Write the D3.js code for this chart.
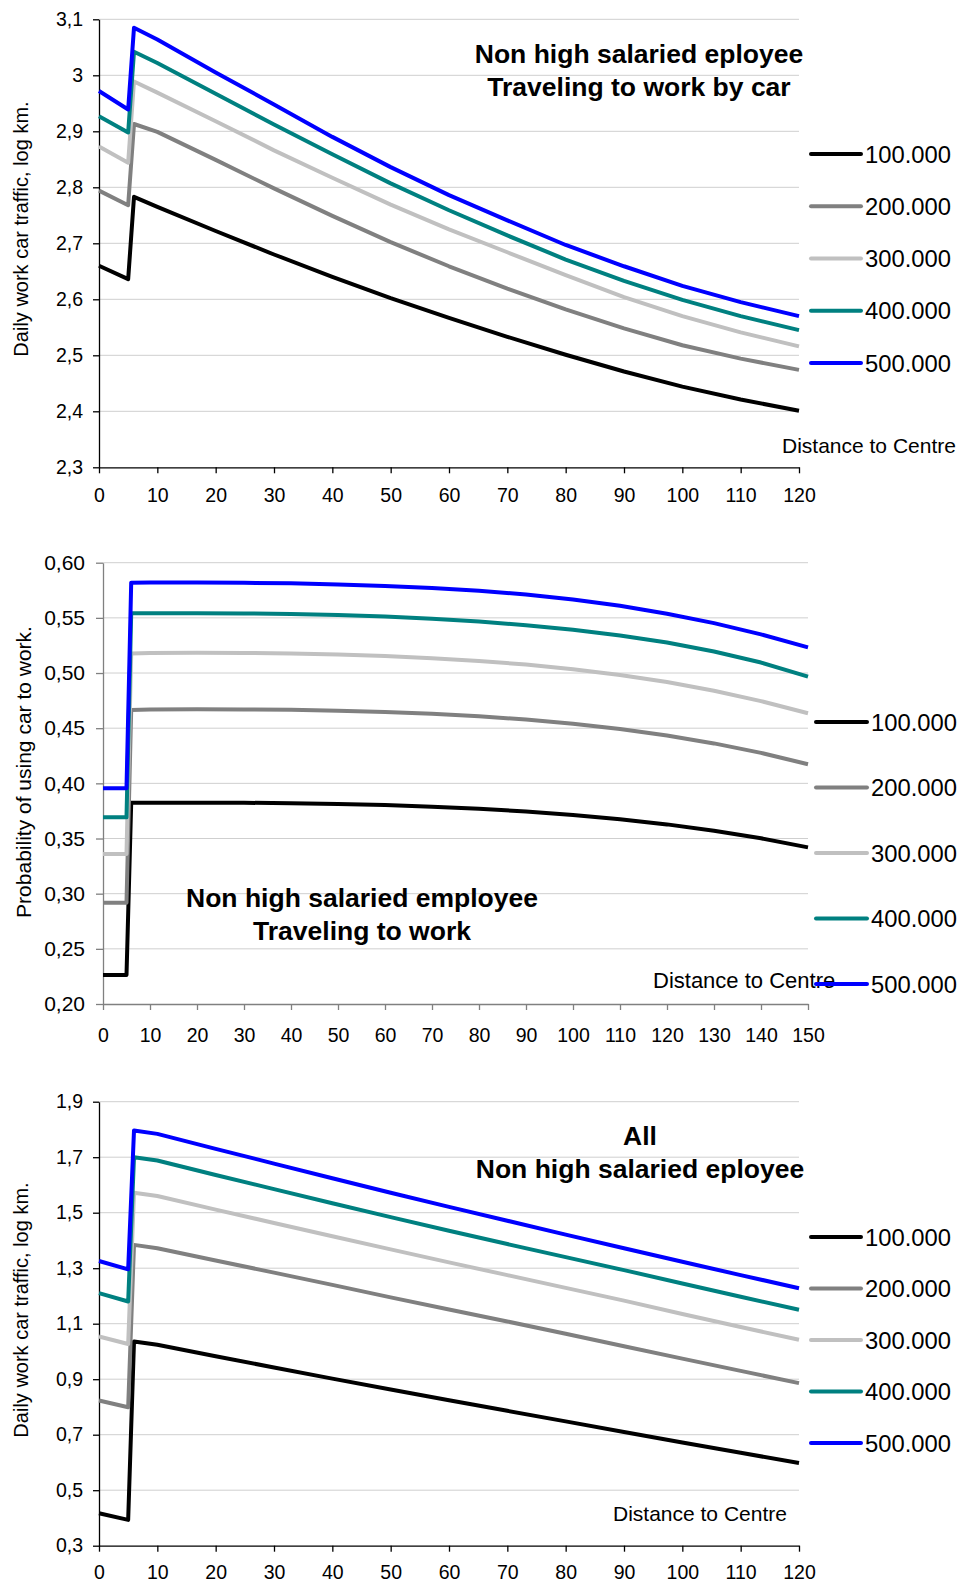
<!DOCTYPE html>
<html>
<head>
<meta charset="utf-8">
<script src="https://cdn.jsdelivr.net/npm/d3@7"></script>
<style>
  body { margin: 0; background: #fff; }
  svg text { font-family: "Liberation Sans", Arial, sans-serif; fill: #000; }
</style>
</head>
<body>
<div id="chart"></div>
<script>
// Series labels and colours (same for all three panels)
const seriesNames = ["100.000", "200.000", "300.000", "400.000", "500.000"];
const seriesColors = ["#000000", "#808080", "#c0c0c0", "#008080", "#0000ff"];

// Panel 1: traffic by car, log km
const distA = [0, 5, 6, 10, 20, 30, 40, 50, 60, 70, 80, 90, 100, 110, 120];
const carKm100 = [2.660, 2.636, 2.783, 2.765, 2.722, 2.680, 2.640, 2.602, 2.567, 2.533, 2.501, 2.471, 2.444, 2.421, 2.401];
const carKm200 = [2.794, 2.768, 2.913, 2.899, 2.849, 2.798, 2.749, 2.702, 2.659, 2.619, 2.582, 2.548, 2.518, 2.494, 2.474];
const carKm300 = [2.873, 2.844, 2.989, 2.969, 2.918, 2.866, 2.817, 2.769, 2.725, 2.684, 2.643, 2.604, 2.570, 2.541, 2.516];
const carKm400 = [2.927, 2.898, 3.042, 3.022, 2.967, 2.912, 2.859, 2.807, 2.759, 2.714, 2.671, 2.633, 2.599, 2.570, 2.545];
const carKm500 = [2.972, 2.939, 3.085, 3.064, 3.005, 2.948, 2.890, 2.836, 2.786, 2.741, 2.697, 2.659, 2.624, 2.595, 2.570];
const xTicksA = [0, 10, 20, 30, 40, 50, 60, 70, 80, 90, 100, 110, 120];
const yTicks1 = [2.3, 2.4, 2.5, 2.6, 2.7, 2.8, 2.9, 3.0, 3.1];

// Panel 2: probability of using car
const distB = [0, 5, 6, 10, 20, 30, 40, 50, 60, 70, 80, 90, 100, 110, 120, 130, 140, 150];
const prob100 = [0.2263, 0.2263, 0.3825, 0.3825, 0.3825, 0.3824, 0.3820, 0.3813, 0.3803, 0.3789, 0.3770, 0.3745, 0.3713, 0.3675, 0.3628, 0.3571, 0.3502, 0.3420];
const prob200 = [0.2918, 0.2918, 0.4665, 0.4670, 0.4671, 0.4670, 0.4666, 0.4659, 0.4647, 0.4630, 0.4608, 0.4578, 0.4540, 0.4492, 0.4433, 0.4362, 0.4276, 0.4173];
const prob300 = [0.3360, 0.3360, 0.5178, 0.5182, 0.5184, 0.5182, 0.5178, 0.5168, 0.5154, 0.5135, 0.5110, 0.5077, 0.5035, 0.4983, 0.4918, 0.4839, 0.4745, 0.4635];
const prob400 = [0.3692, 0.3692, 0.5541, 0.5541, 0.5541, 0.5540, 0.5536, 0.5527, 0.5513, 0.5493, 0.5467, 0.5434, 0.5393, 0.5341, 0.5276, 0.5195, 0.5095, 0.4967];
const prob500 = [0.3955, 0.3955, 0.5819, 0.5820, 0.5820, 0.5818, 0.5813, 0.5803, 0.5789, 0.5770, 0.5745, 0.5712, 0.5666, 0.5609, 0.5538, 0.5452, 0.5350, 0.5233];
const xTicksB = [0, 10, 20, 30, 40, 50, 60, 70, 80, 90, 100, 110, 120, 130, 140, 150];
const yTicks2 = [0.20, 0.25, 0.30, 0.35, 0.40, 0.45, 0.50, 0.55, 0.60];

// Panel 3: all, log km
const allKm100 = [0.417, 0.393, 1.036, 1.024, 0.983, 0.942, 0.902, 0.863, 0.824, 0.786, 0.748, 0.710, 0.672, 0.635, 0.598];
const allKm200 = [0.823, 0.799, 1.384, 1.372, 1.328, 1.284, 1.240, 1.195, 1.151, 1.108, 1.064, 1.019, 0.974, 0.930, 0.886];
const allKm300 = [1.054, 1.027, 1.572, 1.560, 1.511, 1.463, 1.415, 1.368, 1.321, 1.275, 1.229, 1.183, 1.135, 1.088, 1.042];
const allKm400 = [1.210, 1.180, 1.700, 1.688, 1.636, 1.585, 1.534, 1.484, 1.435, 1.387, 1.340, 1.293, 1.245, 1.197, 1.150];
const allKm500 = [1.326, 1.296, 1.796, 1.784, 1.730, 1.677, 1.624, 1.572, 1.521, 1.471, 1.421, 1.372, 1.323, 1.275, 1.228];
const yTicks3 = [0.3, 0.5, 0.7, 0.9, 1.1, 1.3, 1.5, 1.7, 1.9];

const svg = d3.select("#chart")
  .append("svg")
  .attr("width", 961)
  .attr("height", 1584);

// comma as decimal separator
const commaFmt = f => v => f(v).replace(".", ",");

function drawPanel(p) {
  const x = d3.scaleLinear().domain(p.xDomain).range([p.left, p.right]);
  const y = d3.scaleLinear().domain(p.yDomain).range([p.bottom, p.top]);
  const g = svg.append("g");

  // gridlines
  g.selectAll("line.grid")
    .data(p.yTicks.slice(1))
    .enter()
    .append("line")
    .attr("x1", p.left)
    .attr("x2", p.right)
    .attr("y1", d => y(d))
    .attr("y2", d => y(d))
    .attr("stroke", "#cfcfcf")
    .attr("stroke-width", 1);

  // axes
  const yAxis = g.append("g")
    .attr("transform", `translate(${p.left},0)`)
    .call(d3.axisLeft(y).tickValues(p.yTicks).tickFormat(p.yFormat)
      .tickSize(p.yTickSize).tickPadding(p.yPad).tickSizeOuter(0));
  const xAxis = g.append("g")
    .attr("transform", `translate(0,${p.bottom})`)
    .call(d3.axisBottom(x).tickValues(p.xTicks).tickFormat(d3.format("d"))
      .tickSize(6).tickPadding(p.xPad).tickSizeOuter(0));
  [yAxis, xAxis].forEach(ax => {
    ax.attr("font-family", null).attr("font-size", null);
    ax.select(".domain").attr("stroke", p.axisColor).attr("stroke-width", 1.3);
    ax.selectAll(".tick line").attr("stroke", p.axisColor).attr("stroke-width", 1.3);
    ax.selectAll("text").style("font-size", p.tickFont + "px").attr("fill", "#000");
  });
  yAxis.selectAll("text").style("font-size", p.yTickFont + "px");

  // series lines
  const line = d3.line()
    .x(d => x(d[0]))
    .y(d => y(d[1]));

  p.series.forEach((vals, i) => {
    g.append("path")
      .datum(p.xs.map((d, j) => [d, vals[j]]))
      .attr("fill", "none")
      .attr("stroke", seriesColors[i])
      .attr("stroke-width", 4)
      .attr("stroke-linejoin", "round")
      .attr("d", line);
  });

  // y axis title
  g.append("text")
    .attr("transform", `translate(${p.yTitleX},${p.yTitleY}) rotate(-90)`)
    .attr("text-anchor", "middle")
    .style("font-size", p.yTitleFont + "px")
    .text(p.yTitle);

  // x axis title
  g.append("text")
    .attr("x", p.xTitleX)
    .attr("y", p.xTitleY)
    .style("font-size", p.xTitleFont + "px")
    .text("Distance to Centre");

  // chart title
  p.title.forEach((t, i) => {
    g.append("text")
      .attr("x", p.titleX)
      .attr("y", p.titleY + i * 33)
      .attr("text-anchor", "middle")
      .style("font-size", "26.5px")
      .style("font-weight", "bold")
      .text(t);
  });

  // legend
  const leg = g.append("g");
  seriesNames.forEach((name, i) => {
    const cy = p.legTop + i * p.legStep;
    leg.append("line")
      .attr("x1", p.legX1)
      .attr("x2", p.legX2)
      .attr("y1", cy)
      .attr("y2", cy)
      .attr("stroke", seriesColors[i])
      .attr("stroke-width", 4)
      .attr("stroke-linecap", "round");
    leg.append("text")
      .attr("x", p.legX2 + 4)
      .attr("y", cy + 8.5)
      .style("font-size", "23.8px")
      .text(name);
  });
}

drawPanel({
  left: 99, right: 799, top: 19.3, bottom: 467.3,
  xDomain: [0, 120], yDomain: [2.3, 3.1],
  xs: distA, series: [carKm100, carKm200, carKm300, carKm400, carKm500],
  xTicks: xTicksA, yTicks: yTicks1,
  yFormat: commaFmt(v => String(Math.round(v * 10) / 10)),
  axisColor: "#000", yTickSize: 6, yPad: 10, xPad: 14.5, tickFont: 19.5, yTickFont: 19.5,
  yTitle: "Daily work car traffic, log km.", yTitleX: 28, yTitleY: 229, yTitleFont: 20,
  xTitleX: 782, xTitleY: 452.5, xTitleFont: 21,
  title: ["Non high salaried eployee", "Traveling to work by car"], titleX: 639, titleY: 62.5,
  legX1: 811, legX2: 861, legTop: 154, legStep: 52.25
});

drawPanel({
  left: 103, right: 808, top: 562.7, bottom: 1004,
  xDomain: [0, 150], yDomain: [0.2, 0.6],
  xs: distB, series: [prob100, prob200, prob300, prob400, prob500],
  xTicks: xTicksB, yTicks: yTicks2,
  yFormat: commaFmt(d3.format(".2f")),
  axisColor: "#808080", yTickSize: 7, yPad: 11, xPad: 18, tickFont: 19.5, yTickFont: 21,
  yTitle: "Probability of using car to work.", yTitleX: 31, yTitleY: 772, yTitleFont: 21,
  xTitleX: 653, xTitleY: 988, xTitleFont: 22,
  title: ["Non high salaried employee", "Traveling to work"], titleX: 362, titleY: 906.5,
  legX1: 816, legX2: 867, legTop: 722, legStep: 65.5
});

drawPanel({
  left: 99, right: 799, top: 1101.7, bottom: 1545.7,
  xDomain: [0, 120], yDomain: [0.3, 1.9],
  xs: distA, series: [allKm100, allKm200, allKm300, allKm400, allKm500],
  xTicks: xTicksA, yTicks: yTicks3,
  yFormat: commaFmt(d3.format(".1f")),
  axisColor: "#000", yTickSize: 6, yPad: 10, xPad: 13.8, tickFont: 19.5, yTickFont: 19.5,
  yTitle: "Daily work car traffic, log km.", yTitleX: 28, yTitleY: 1310, yTitleFont: 20,
  xTitleX: 613, xTitleY: 1520.5, xTitleFont: 21,
  title: ["All", "Non high salaried eployee"], titleX: 640, titleY: 1144.5,
  legX1: 811, legX2: 861, legTop: 1237, legStep: 51.5
});
</script>
</body>
</html>
